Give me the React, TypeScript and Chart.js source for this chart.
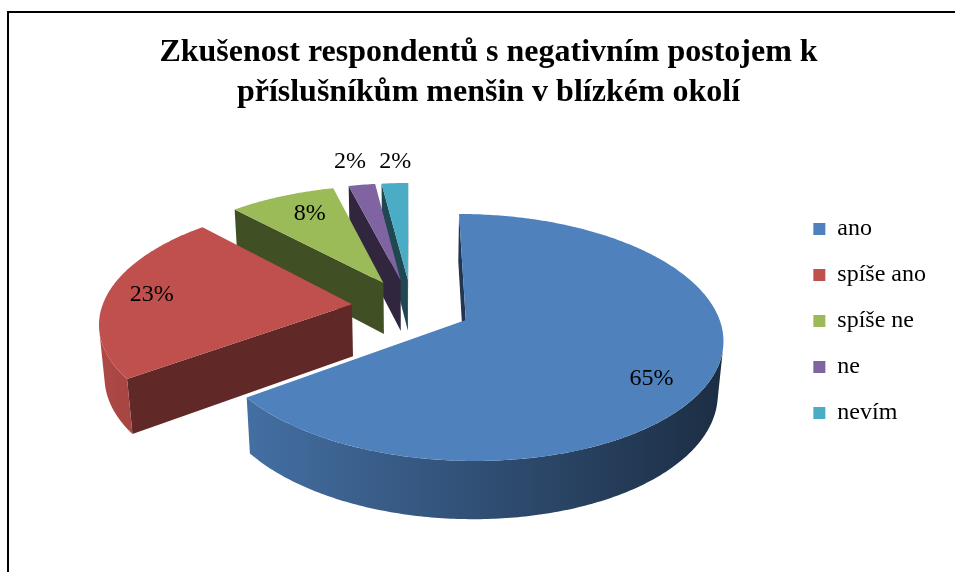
import React, { useEffect, useRef } from "react";
import { Chart, registerables } from "chart.js";

Chart.register(...registerables);

// ---- data ----
const TITLE_LINES = [
  "Zkušenost respondentů s negativním postojem k",
  "příslušníkům menšin v blízkém okolí",
];
const CATEGORIES = ["ano", "spíše ano", "spíše ne", "ne", "nevím"];
const VALUES = [65, 23, 8, 2, 2];
const COLORS = ["#4F81BD", "#C0504D", "#9BBB59", "#8064A2", "#4BACC6"];

// ---- style / 3D view ----
const FONT = "'Liberation Serif', 'Times New Roman', serif";
const RADIUS = 250;
const EXPLODE = 60;
const THICK = 60;
const PHI = (28 * Math.PI) / 180;
const DIST = 1582;
const FOCAL = 1582;
const ANCHOR_X = 411.5;
const ANCHOR_Y = 307;
const LABEL_RADIUS = [0.81, 0.82, 0.76, 1.29, 1.26];
const LABEL_ANGLE_SHIFT = [7.1, 0.6, 2.1, -0.5, 0.7];
const FACE_SHADE = [0.42, 0.5, 0.42, 0.38, 0.42];

const SIN = Math.sin(PHI);
const COS = Math.cos(PHI);
const CAM_V = DIST * COS; // camera position projected on the pie plane

function proj(u: number, v: number, h: number) {
  const yc = -v * SIN + h * COS;
  const z = DIST - v * COS - h * SIN;
  return { x: ANCHOR_X + (FOCAL * u) / z, y: ANCHOR_Y - (FOCAL * yc) / z };
}

function shade(hex: string, f: number) {
  const n = parseInt(hex.slice(1), 16);
  const r = Math.round(((n >> 16) & 255) * f);
  const g = Math.round(((n >> 8) & 255) * f);
  const b = Math.round((n & 255) * f);
  return `rgb(${r},${g},${b})`;
}

function projectingContext(real: CanvasRenderingContext2D, cx: number, cy: number, tx0: number, ty0: number) {
  let tx = tx0;
  let ty = ty0;
  const st: number[][] = [];
  const toScreen = (x: number, y: number) => proj(x + tx - cx, y + ty - cy, 0);
  const target: any = {
    save() {
      st.push([tx, ty]);
      real.save();
    },
    restore() {
      const s = st.pop();
      if (s) {
        tx = s[0];
        ty = s[1];
      }
      real.restore();
    },
    translate(dx: number, dy: number) {
      tx += dx;
      ty += dy;
    },
    moveTo(x: number, y: number) {
      const p = toScreen(x, y);
      real.moveTo(p.x, p.y);
    },
    lineTo(x: number, y: number) {
      const p = toScreen(x, y);
      real.lineTo(p.x, p.y);
    },
    arc(x: number, y: number, r: number, a0: number, a1: number, ccw?: boolean) {
      if (!(r > 0) || !isFinite(a0) || !isFinite(a1)) {
        target.lineTo(x, y);
        return;
      }
      let span = a1 - a0;
      if (!ccw && span < 0) span += Math.PI * 2;
      if (ccw && span > 0) span -= Math.PI * 2;
      const n = Math.max(2, Math.ceil(Math.abs(span) / (Math.PI / 240)));
      for (let i = 0; i <= n; i++) {
        const a = a0 + (span * i) / n;
        target.lineTo(x + r * Math.cos(a), y + r * Math.sin(a));
      }
    },
  };
  return new Proxy(target, {
    get(t, k) {
      if (k in t) return t[k];
      const v = (real as any)[k];
      return typeof v === "function" ? v.bind(real) : v;
    },
    set(_t, k, v) {
      (real as any)[k] = v;
      return true;
    },
  });
}

const pie3d = {
  id: "pie3d",
  beforeDatasetsDraw(chart: any) {
    const ctx: CanvasRenderingContext2D = chart.ctx;
    const meta = chart.getDatasetMeta(0);
    const items = meta.data
      .map((arc: any, i: number) => {
        const mid = (arc.startAngle + arc.endAngle) / 2;
        return { arc, i, mid, ex: Math.cos(mid) * EXPLODE, ey: Math.sin(mid) * EXPLODE };
      })
      .sort((a: any, b: any) => a.ey - b.ey);

    for (const it of items) {
      const { arc, i, ex, ey } = it;
      const base = COLORS[i];
      const r = arc.outerRadius;
      const a0 = arc.startAngle;
      const a1 = arc.endAngle;
      const P = (a: number, rad: number, h: number) =>
        proj(ex + rad * Math.cos(a), ey + rad * Math.sin(a), h);

      ctx.save();
      // radial cut faces, only those turned towards the viewer
      ctx.fillStyle = shade(base, FACE_SHADE[i]);
      const faces = [
        { a: a0, nx: Math.sin(a0), ny: -Math.cos(a0) },
        { a: a1, nx: -Math.sin(a1), ny: Math.cos(a1) },
      ];
      for (const f of faces) {
        const facing = f.nx * (0 - ex) + f.ny * (CAM_V - ey);
        if (facing <= 0) continue;
        const p1 = proj(ex, ey, 0);
        const p2 = P(f.a, r, 0);
        const p3 = P(f.a, r, -THICK);
        const p4 = proj(ex, ey, -THICK);
        ctx.beginPath();
        ctx.moveTo(p1.x, p1.y);
        ctx.lineTo(p2.x, p2.y);
        ctx.lineTo(p3.x, p3.y);
        ctx.lineTo(p4.x, p4.y);
        ctx.closePath();
        ctx.fill();
      }
      // outer wall, visible part only
      const n = Math.max(8, Math.ceil((a1 - a0) / (Math.PI / 360)));
      let b0 = NaN;
      let b1 = NaN;
      for (let k = 0; k <= n; k++) {
        const a = a0 + ((a1 - a0) * k) / n;
        const vis = -ex * Math.cos(a) + (CAM_V - ey) * Math.sin(a) - r;
        if (vis > 0) {
          if (isNaN(b0)) b0 = a;
          b1 = a;
        }
      }
      if (!isNaN(b0) && b1 > b0) {
        const xl = proj(ex - r, ey, 0).x;
        const xr = proj(ex + r, ey, 0).x;
        const grad = ctx.createLinearGradient(xl, 0, xr, 0);
        grad.addColorStop(0, shade(base, 0.9));
        grad.addColorStop(1, shade(base, 0.36));
        ctx.fillStyle = grad;
        const m = Math.max(4, Math.ceil((b1 - b0) / (Math.PI / 240)));
        ctx.beginPath();
        for (let k = 0; k <= m; k++) {
          const p = P(b0 + ((b1 - b0) * k) / m, r, 0);
          if (k === 0) ctx.moveTo(p.x, p.y);
          else ctx.lineTo(p.x, p.y);
        }
        for (let k = m; k >= 0; k--) {
          const p = P(b0 + ((b1 - b0) * k) / m, r, -THICK);
          ctx.lineTo(p.x, p.y);
        }
        ctx.closePath();
        ctx.fill();
      }
      ctx.restore();

      // top surface: the library's own arc element, drawn through a projecting context
      const pctx = projectingContext(ctx, arc.x, arc.y, ex, ey);
      arc.draw(pctx);
    }

    // value labels
    ctx.save();
    ctx.font = `24px ${FONT}`;
    ctx.fillStyle = "#000";
    ctx.textAlign = "center";
    ctx.textBaseline = "middle";
    for (const it of items) {
      const { arc, i, mid, ex, ey } = it;
      const rr = LABEL_RADIUS[i] * arc.outerRadius;
      const a = mid + (LABEL_ANGLE_SHIFT[i] * Math.PI) / 180;
      const p = proj(ex + rr * Math.cos(a), ey + rr * Math.sin(a), 0);
      ctx.fillText(`${VALUES[i]}%`, p.x, p.y);
    }
    ctx.restore();
    return false;
  },
};

export default function App() {
  const ref = useRef<HTMLCanvasElement | null>(null);
  useEffect(() => {
    if (!ref.current) return;
    const chart = new Chart(ref.current, {
      type: "pie",
      data: {
        labels: CATEGORIES,
        datasets: [
          {
            data: VALUES,
            backgroundColor: COLORS,
            borderWidth: 0,
            radius: RADIUS,
          } as any,
        ],
      },
      options: {
        responsive: false,
        animation: false,
        events: [],
        layout: { padding: { left: 41, right: 19, top: 0, bottom: 51 } },
        plugins: {
          title: {
            display: true,
            text: TITLE_LINES,
            color: "#000",
            font: { family: FONT, size: 32, weight: "bold", lineHeight: 1.25 },
            padding: { top: 33, bottom: 8 },
          },
          legend: {
            position: "right",
            fullSize: false,
            labels: {
              boxWidth: 12,
              boxHeight: 12,
              padding: 22,
              color: "#000",
              font: { family: FONT, size: 24 },
            },
          },
          tooltip: { enabled: false },
        },
      } as any,
      plugins: [pie3d],
    });
    return () => chart.destroy();
  }, []);

  return (
    <div
      style={{
        position: "fixed",
        left: 0,
        top: 0,
        width: 955,
        height: 572,
        overflow: "hidden",
        background: "#fff",
      }}
    >
      <canvas ref={ref} width={955} height={572} style={{ position: "absolute", left: 0, top: 0 }} />
      <div
        style={{
          position: "absolute",
          left: 7,
          top: 11,
          width: 1200,
          height: 1200,
          borderTop: "2px solid #000",
          borderLeft: "2px solid #000",
          pointerEvents: "none",
        }}
      />
    </div>
  );
}
